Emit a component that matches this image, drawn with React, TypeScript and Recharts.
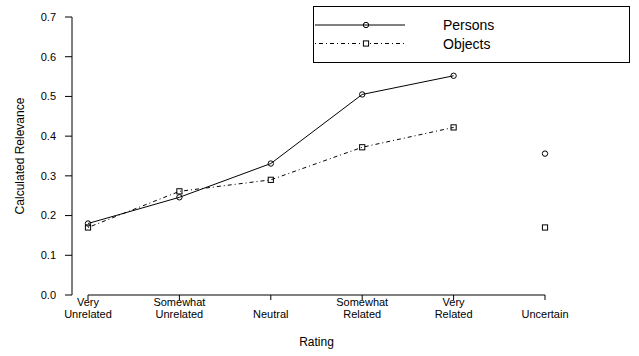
import { LineChart, Line, XAxis, YAxis, ReferenceLine, Legend } from 'recharts';

// rating categories on the x axis (\n marks a line break in the tick label)
const categories = [
  'Very\nUnrelated',
  'Somewhat\nUnrelated',
  'Neutral',
  'Somewhat\nRelated',
  'Very\nRelated',
  'Uncertain',
];

// calculated relevance per rating; the last one (Uncertain) is drawn unconnected
const persons = [0.18, 0.246, 0.331, 0.505, 0.552, 0.356];
const objects = [0.17, 0.261, 0.29, 0.372, 0.422, 0.17];
const connectedCount = 5;

const yTicks = [0, 0.1, 0.2, 0.3, 0.4, 0.5, 0.6, 0.7];

const data = categories.map((cat, i) => ({
  cat,
  persons: i < connectedCount ? persons[i] : null,
  objects: i < connectedCount ? objects[i] : null,
  personsUnc: i >= connectedCount ? persons[i] : null,
  objectsUnc: i >= connectedCount ? objects[i] : null,
}));

const FONT = '"Liberation Sans", Arial, Helvetica, sans-serif';
const DASH = '1 3 4 3';

const CircleDot = (props: any) => {
  const { cx, cy, value } = props;
  if (value == null || cx == null || cy == null) return null;
  return <circle cx={cx} cy={cy} r={2.7} fill="none" stroke="#000" strokeWidth={1} />;
};

const SquareDot = (props: any) => {
  const { cx, cy, value } = props;
  if (value == null || cx == null || cy == null) return null;
  return <rect x={cx - 2.6} y={cy - 2.6} width={5.2} height={5.2} fill="none" stroke="#000" strokeWidth={1} />;
};

const XTick = (props: any) => {
  const { x, y, payload } = props;
  const lines = String(payload.value).split('\n');
  const start = lines.length === 1 ? 1 : 0;
  return (
    <g>
      {lines.map((l, i) => (
        <text key={i} x={x} y={y + 3.5 + (start + i) * 12} textAnchor="middle" fontSize={11} fontFamily={FONT} fill="#000">
          {l}
        </text>
      ))}
    </g>
  );
};

const LegendBox = () => (
  <svg width={318} height={58} style={{ display: 'block' }}>
    <rect x={0.5} y={0.5} width={316} height={56} fill="#fff" stroke="#000" strokeWidth={1} />
    <line x1={2} x2={92} y1={19} y2={19} stroke="#000" strokeWidth={1} />
    <circle cx={53} cy={19} r={2.7} fill="none" stroke="#000" />
    <text x={130} y={24} fontSize={14} fontFamily={FONT} fill="#000">Persons</text>
    <line x1={2} x2={92} y1={37.5} y2={37.5} stroke="#000" strokeWidth={1} strokeDasharray={DASH} />
    <rect x={50.4} y={34.9} width={5.2} height={5.2} fill="#fff" stroke="#000" />
    <text x={130} y={42.5} fontSize={14} fontFamily={FONT} fill="#000">Objects</text>
  </svg>
);

export default function App() {
  return (
    <div style={{ position: 'absolute', left: 0, top: 0, width: 639, height: 356, background: '#fff' }}>
      <LineChart width={639} height={356} data={data} margin={{ top: 17, right: 0, left: 0, bottom: 0 }}>
        <XAxis
          dataKey="cat"
          interval={0}
          padding={{ left: 16, right: 94 }}
          axisLine={false}
          tickLine={{ stroke: '#000' }}
          tickSize={5}
          height={61}
          tick={<XTick />}
          label={{
            content: (p: any) => {
              const vb = p.viewBox;
              return (
                <text x={vb.x + 16 + 228.5} y={346} textAnchor="middle" fontSize={12} fontFamily={FONT} fill="#000">
                  Rating
                </text>
              );
            },
          }}
        />
        <YAxis
          domain={[0, 0.7]}
          ticks={yTicks}
          tickFormatter={(v: number) => v.toFixed(1)}
          width={72}
          axisLine={{ stroke: '#000' }}
          tickLine={{ stroke: '#000' }}
          tickSize={7}
          tickMargin={9}
          tick={{ fontSize: 11, fontFamily: FONT, fill: '#000' }}
          label={{
            content: (p: any) => {
              const vb = p.viewBox;
              const cy = vb.y + vb.height / 2;
              return (
                <text x={24} y={cy} transform={`rotate(-90, 24, ${cy})`} textAnchor="middle" fontSize={12} fontFamily={FONT} fill="#000">
                  Calculated Relevance
                </text>
              );
            },
          }}
        />
        <ReferenceLine
          segment={[
            { x: categories[0], y: 0 },
            { x: categories[categories.length - 1], y: 0 },
          ]}
          stroke="#000"
          strokeWidth={1}
          ifOverflow="visible"
        />
        <Line dataKey="persons" stroke="#000" strokeWidth={1} dot={<CircleDot />} activeDot={false} isAnimationActive={false} />
        <Line dataKey="objects" stroke="#000" strokeWidth={1} strokeDasharray={DASH} dot={<SquareDot />} activeDot={false} isAnimationActive={false} />
        <Line dataKey="personsUnc" stroke="none" dot={<CircleDot />} activeDot={false} isAnimationActive={false} />
        <Line dataKey="objectsUnc" stroke="none" dot={<SquareDot />} activeDot={false} isAnimationActive={false} />
        <Legend
          layout="horizontal"
          verticalAlign="middle"
          align="center"
          content={<LegendBox />}
          wrapperStyle={{ position: 'absolute', left: 313, top: 6, width: 318, height: 58 }}
        />
      </LineChart>
    </div>
  );
}
